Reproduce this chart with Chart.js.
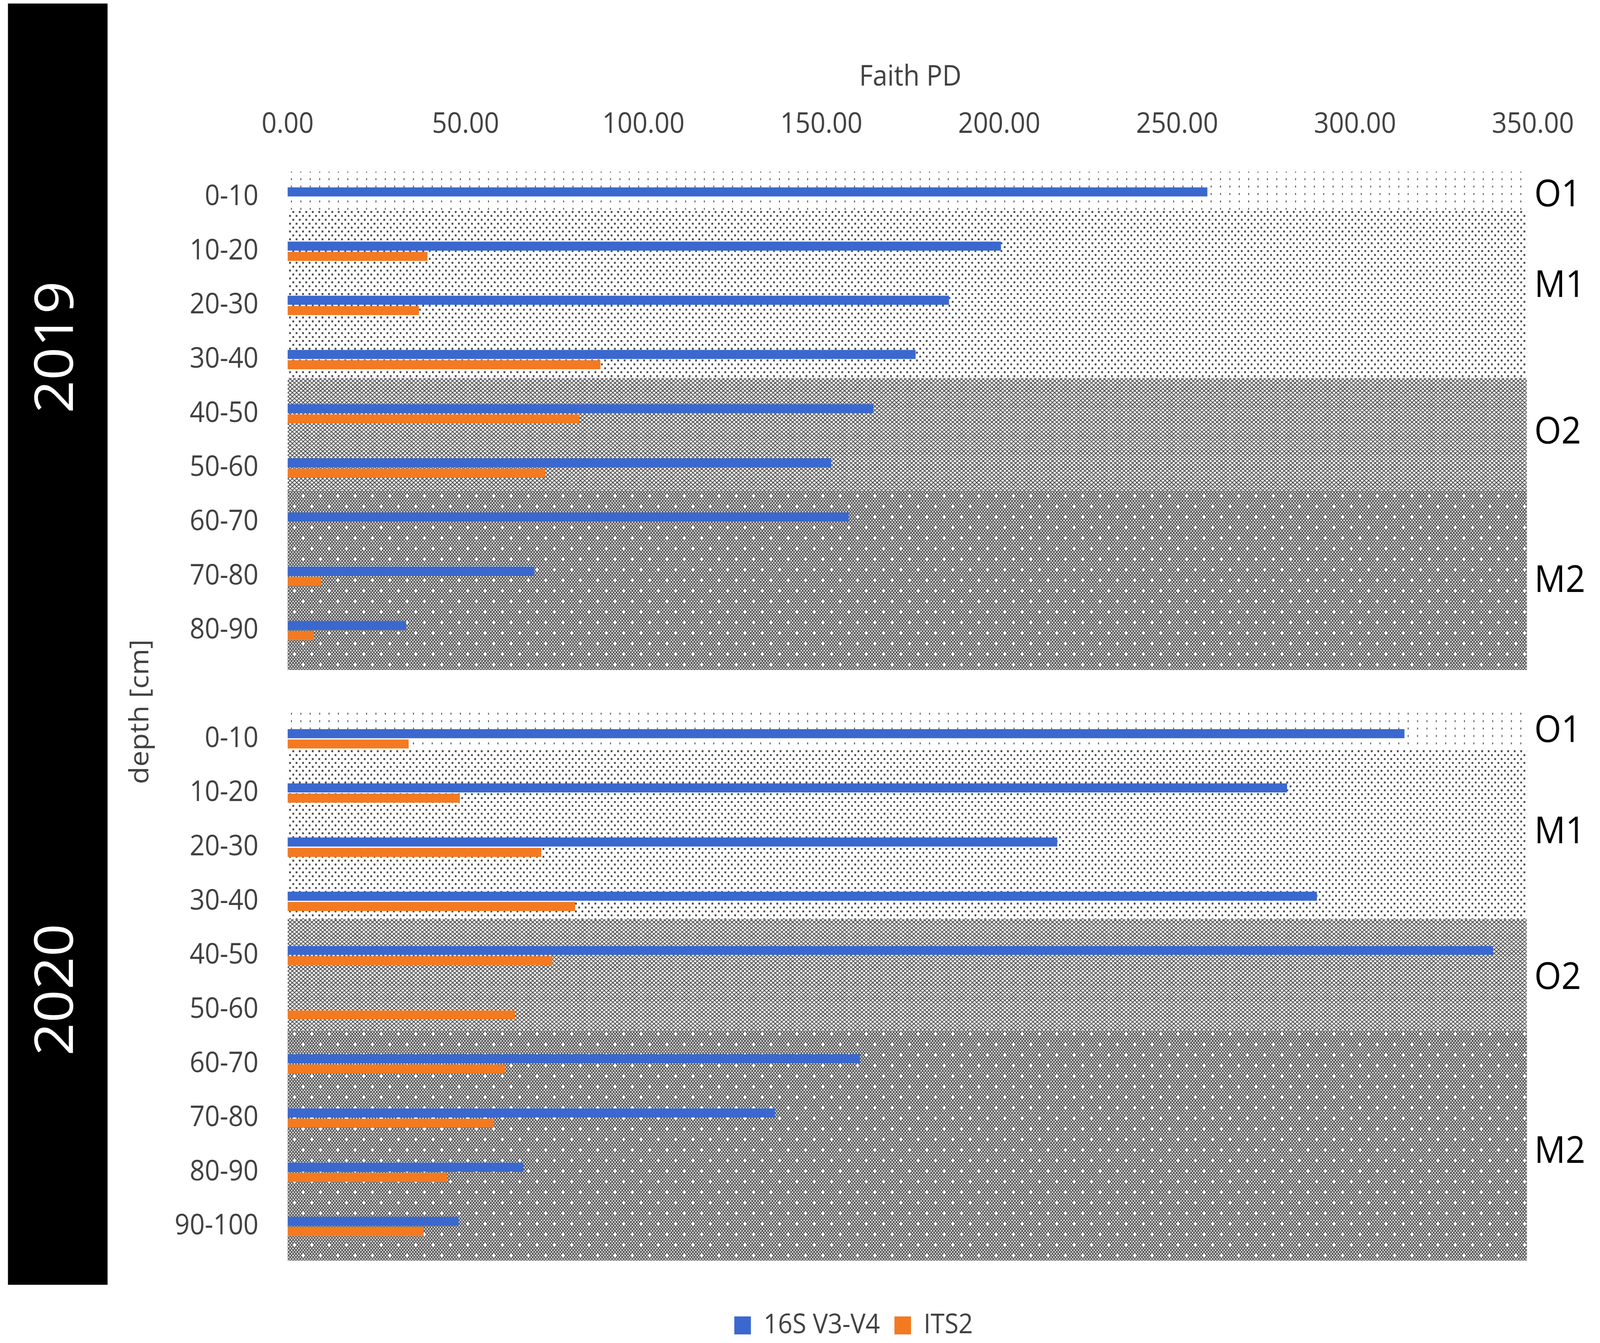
<!DOCTYPE html>
<html>
<head>
<meta charset="utf-8">
<title>Faith PD by depth</title>
<script src="https://cdn.jsdelivr.net/npm/chart.js@4.4.1/dist/chart.umd.min.js"></script>
<style>
  html, body { margin: 0; padding: 0; background: #fff; overflow: hidden; }
  #frame { position: relative; overflow: hidden; background: #fff; }
  #faithChart { position: absolute; left: 0; top: 0; transform-origin: 0 0; }
</style>
</head>
<body>
<div id="frame"><canvas id="faithChart" width="4433" height="3437"></canvas></div>
<script>
// depth classes, 2019 profile then 2020 profile (blank row separates them)
const depthLabels = ['0-10', '10-20', '20-30', '30-40', '40-50', '50-60', '60-70', '70-80', '80-90', '',
  '0-10', '10-20', '20-30', '30-40', '40-50', '50-60', '60-70', '70-80', '80-90', '90-100'];

// Faith PD values
const faith16S = [258.5, 200.5, 185.9, 176.5, 164.6, 152.8, 157.7, 69.3, 33.3, null,
  313.9, 280.9, 216.3, 289.3, 338.8, null, 160.9, 137.0, 66.3, 48.1];
const faithITS2 = [null, 39.3, 36.9, 87.9, 82.0, 72.5, null, 9.5, 7.4, null,
  34.0, 48.4, 71.3, 80.8, 74.4, 63.9, 61.1, 57.9, 44.9, 38.2];

const xTicks = [0, 50, 100, 150, 200, 250, 300, 350];

// horizon bands behind the bars, in row units from the top of the category axis
const bandNames = ['O1', 'M1', 'O2', 'M2', 'O1', 'M1', 'O2', 'M2'];
const bandFrom = [0.03, 0.74, 3.84, 5.92, 9.99, 10.70, 13.83, 15.88];
const bandTo = [0.74, 3.84, 5.92, 9.23, 10.70, 13.83, 15.88, 20.13];
const bandLabelAt = [0.47, 2.15, 4.85, 7.59, 10.36, 12.23, 14.92, 18.13];

const years = ['2019', '2020'];
const yearAt = [3.27, 15.13];

const BLUE = '#3a68cf';
const ORANGE = '#f37a21';
const TEXT = '#404040';
const FONT = "'Open Sans', 'Noto Sans', sans-serif";

// the figure is laid out on a 4433 x 3437 sheet, then fitted to the window
const SHEET_W = 4433, SHEET_H = 3437;
const viewW = window.innerWidth || SHEET_W;
const viewH = window.innerHeight || SHEET_H;
const frame = document.getElementById('frame');
const canvas = document.getElementById('faithChart');
frame.style.width = viewW + 'px';
frame.style.height = viewH + 'px';
canvas.style.transform = 'scale(' + (viewW / SHEET_W) + ',' + (viewH / SHEET_H) + ')';

Chart.defaults.font.family = FONT;
Chart.defaults.color = TEXT;

function tile(w, h, paint) {
  const c = document.createElement('canvas');
  c.width = w;
  c.height = h;
  const g = c.getContext('2d');
  g.fillStyle = '#fff';
  g.fillRect(0, 0, w, h);
  paint(g, w, h);
  return c;
}

// diagonal lines both ways, wrapping cleanly inside the tile
function hatch(g, w, h, n, color, lw) {
  const cw = w / n;
  g.strokeStyle = color;
  g.lineWidth = lw;
  g.beginPath();
  for (let k = -n; k <= 2 * n; k++) {
    g.moveTo(k * cw, 0); g.lineTo(k * cw + w, h);
    g.moveTo(k * cw, h); g.lineTo(k * cw + w, 0);
  }
  g.stroke();
}

function diamond(g, x, y, rx, ry) {
  g.beginPath();
  g.moveTo(x - rx, y); g.lineTo(x, y - ry); g.lineTo(x + rx, y); g.lineTo(x, y + ry);
  g.closePath();
  g.fill();
}

const tiles = {
  O1: tile(26, 19, g => {
    g.fillStyle = '#6a6a6a';
    g.fillRect(0, 0, 3, 5);
  }),
  M1: tile(18, 20, g => {
    g.fillStyle = '#4e4e4e';
    g.fillRect(0, 0, 5, 5);
    g.fillRect(9, 10, 5, 5);
  }),
  O2: tile(48, 40, (g, w, h) => {
    hatch(g, w, h, 4, '#555', 2.4);
  }),
  M2: tile(48, 54, (g, w, h) => {
    hatch(g, w, h, 6, '#585858', 2.6);
    g.fillStyle = '#fff';
    [[0, 0], [w, 0], [0, h], [w, h], [w / 2, h / 2]].forEach(p => diamond(g, p[0], p[1], 5, 6));
  })
};

const ctx = canvas.getContext('2d');
const patterns = {};
Object.keys(tiles).forEach(k => { patterns[k] = ctx.createPattern(tiles[k], 'repeat'); });

const bandsPlugin = {
  id: 'bands',
  beforeDatasetsDraw(chart) {
    const c = chart.ctx;
    const y = chart.scales.y;
    const x = chart.scales.x;
    const step = (y.bottom - y.top) / depthLabels.length;
    const left = x.getPixelForValue(0);
    const right = x.getPixelForValue(348.3);
    c.save();
    bandNames.forEach((name, i) => {
      const y0 = y.top + bandFrom[i] * step;
      const y1 = y.top + bandTo[i] * step;
      c.fillStyle = patterns[name];
      c.fillRect(left, y0, right - left, y1 - y0);
    });
    c.fillStyle = '#000';
    c.font = '96px ' + FONT;
    c.textAlign = 'left';
    c.textBaseline = 'middle';
    bandNames.forEach((name, i) => {
      c.fillText(name, chart.chartArea.right + 4, y.top + bandLabelAt[i] * step);
    });
    c.restore();
  }
};

const yearPlugin = {
  id: 'years',
  beforeDraw(chart) {
    const c = chart.ctx;
    const y = chart.scales.y;
    const step = (y.bottom - y.top) / depthLabels.length;
    c.save();
    c.fillStyle = '#000';
    c.fillRect(22, 9, 276, 3279);
    c.fillStyle = '#fff';
    c.font = '148px ' + FONT;
    c.textAlign = 'center';
    c.textBaseline = 'middle';
    years.forEach((yr, i) => {
      c.save();
      c.translate(160, y.top + yearAt[i] * step);
      c.rotate(-Math.PI / 2);
      c.fillText(yr, 0, 0);
      c.restore();
    });
    c.restore();
  }
};

new Chart(ctx, {
  type: 'bar',
  data: {
    labels: depthLabels,
    datasets: [
      {
        label: '16S V3-V4',
        data: faith16S,
        backgroundColor: BLUE,
        borderWidth: 0,
        categoryPercentage: 0.38,
        barPercentage: 0.88
      },
      {
        label: 'ITS2',
        data: faithITS2,
        backgroundColor: ORANGE,
        borderWidth: 0,
        categoryPercentage: 0.38,
        barPercentage: 0.88
      }
    ]
  },
  options: {
    indexAxis: 'y',
    responsive: false,
    animation: false,
    devicePixelRatio: window.devicePixelRatio || 1,
    layout: { padding: { left: 297, right: 0, top: 0, bottom: 0 } },
    plugins: {
      legend: {
        position: 'bottom',
        labels: {
          boxWidth: 46,
          boxHeight: 46,
          padding: 40,
          color: TEXT,
          font: { size: 70 }
        }
      },
      tooltip: { enabled: false }
    },
    scales: {
      x: {
        type: 'linear',
        position: 'top',
        min: 0,
        max: 350,
        afterBuildTicks: s => { s.ticks = xTicks.map(v => ({ value: v })); },
        ticks: {
          callback: v => Number(v).toFixed(2),
          padding: 72,
          color: TEXT,
          font: { size: 73 }
        },
        grid: { display: false, drawTicks: false },
        border: { display: false },
        title: {
          display: true,
          text: 'Faith PD',
          color: TEXT,
          padding: { top: 154, bottom: 0 },
          font: { size: 73 }
        },
        afterFit: s => { s.height = 435; }
      },
      xb: {
        type: 'linear',
        position: 'bottom',
        ticks: { display: false },
        grid: { display: false, drawTicks: false },
        border: { display: false },
        afterFit: s => { s.height = 109; }
      },
      y: {
        type: 'category',
        position: 'left',
        ticks: {
          autoSkip: false,
          padding: 81,
          color: TEXT,
          font: { size: 73 }
        },
        grid: { display: false, drawTicks: false },
        border: { display: false },
        title: {
          display: true,
          text: 'depth [cm]',
          color: TEXT,
          padding: { top: 49, bottom: 0 },
          font: { size: 73 }
        },
        afterFit: s => { s.width = 500; }
      },
      yr: {
        type: 'category',
        position: 'right',
        ticks: { display: false },
        grid: { display: false, drawTicks: false },
        border: { display: false },
        afterFit: s => { s.width = 169; }
      }
    }
  },
  plugins: [yearPlugin, bandsPlugin]
});
</script>
</body>
</html>
